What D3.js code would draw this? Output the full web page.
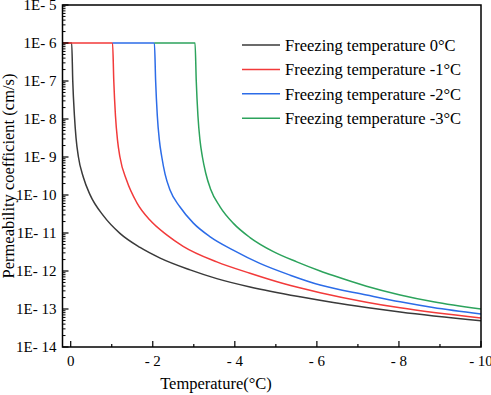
<!DOCTYPE html>
<html>
<head>
<meta charset="utf-8">
<script src="https://cdn.jsdelivr.net/npm/d3@7"></script>
<style>
  body { margin: 0; background: #fff; }
</style>
</head>
<body>
<script>
(()=>{
    const width = 491;
    const height = 395;
    const font = "'Liberation Serif', 'Times New Roman', Times, serif";

    const seriesNames = ["Freezing temperature 0°C", "Freezing temperature -1°C", "Freezing temperature -2°C", "Freezing temperature -3°C"];
    const seriesColors = ["#3a3a3a", "#f23a3a", "#2c6ce8", "#2ca35c"];

    // temperature (°C) and log10 of permeability
    const blackT = [0.2, -0.024, -0.05, -0.09, -0.13, -0.185, -0.31, -0.47, -0.8, -1.2, -1.69, -2.18, -2.91, -3.56, -4.37, -5.59, -6.4, -7.21, -8.03, -10];
    const blackK = [-6, -6, -7.0, -7.9, -8.5, -8.98, -9.54, -9.99, -10.55, -11.01, -11.38, -11.66, -11.97, -12.2, -12.42, -12.68, -12.83, -12.96, -13.08, -13.31];

    const redT = [0.2, -1.02, -1.05, -1.09, -1.14, -1.2, -1.365, -1.61, -1.93, -2.34, -2.74, -3.56, -4.37, -5.18, -6.08, -7.21, -8.03, -10];
    const redK = [-6, -6, -7.0, -7.9, -8.55, -9.0, -9.62, -10.2, -10.66, -11.05, -11.35, -11.76, -12.06, -12.33, -12.57, -12.82, -12.97, -13.24];

    const blueT = [-1.02, -2.04, -2.07, -2.11, -2.16, -2.22, -2.3, -2.42, -2.66, -2.99, -3.4, -3.96, -4.61, -5.35, -6.08, -7.21, -8.03, -8.83, -10];
    const blueK = [-6, -6, -7.0, -7.9, -8.55, -9.0, -9.45, -9.87, -10.31, -10.74, -11.1, -11.45, -11.8, -12.11, -12.37, -12.63, -12.81, -12.96, -13.13];

    const greenT = [-2.04, -3.03, -3.06, -3.1, -3.15, -3.21, -3.29, -3.41, -3.64, -3.96, -4.37, -4.94, -5.51, -6.08, -6.4, -7.21, -8.03, -8.84, -10];
    const greenK = [-6, -6, -7.0, -7.9, -8.55, -9.0, -9.42, -9.85, -10.31, -10.74, -11.12, -11.49, -11.76, -12.0, -12.12, -12.4, -12.63, -12.81, -13.0];

    const seriesT = [blackT, redT, blueT, greenT];
    const seriesK = [blackK, redK, blueK, greenK];

    const xTicks = [0, -2, -4, -6, -8, -10];
    const xMinor = [-1, -3, -5, -7, -9];
    const yExponents = [-5, -6, -7, -8, -9, -10, -11, -12, -13, -14];

    const margin = {left: 62.5, right: 10, top: 5, bottom: 48};

    const svg = d3.create("svg")
        .attr("width", width)
        .attr("height", height)
        .attr("viewBox", [0, 0, width, height])
        .attr("font-family", font);

    const x = d3.scaleLinear()
        .domain([0.2, -10])
        .range([margin.left, width - margin.right]);

    const y = d3.scaleLog()
        .domain([1e-14, 1e-5])
        .range([height - margin.bottom, margin.top]);

    const x0 = x.range()[0], x1 = x.range()[1];
    const y0 = y.range()[0], y1 = y.range()[1];

    svg.append("clipPath").attr("id", "plotclip")
        .append("rect")
        .attr("x", x0).attr("y", y1)
        .attr("width", x1 - x0).attr("height", y0 - y1);

    // curves
    const line = d3.line()
        .x(d => x(d[0]))
        .y(d => y(Math.pow(10, d[1])))
        .curve(d3.curveMonotoneX);

    for (let i = 0; i < seriesT.length; i++) {
        const pts = seriesT[i].map((t, j) => [t, seriesK[i][j]]);
        svg.append("path")
            .attr("clip-path", "url(#plotclip)")
            .attr("d", line(pts))
            .attr("fill", "none")
            .attr("stroke", seriesColors[i])
            .attr("stroke-width", 1.5);
    }

    // y ticks (log, inward)
    const yg = svg.append("g");
    for (let e = -14; e < -5; e++) {
        for (let m = 2; m <= 9; m++) {
            const yy = y(m * Math.pow(10, e));
            yg.append("line")
                .attr("x1", x0).attr("x2", x0 + 3)
                .attr("y1", yy).attr("y2", yy)
                .attr("stroke", "#000").attr("stroke-width", 1);
        }
    }
    yExponents.forEach(e => {
        const yy = y(Math.pow(10, e));
        yg.append("line")
            .attr("x1", x0).attr("x2", x0 + 6)
            .attr("y1", yy).attr("y2", yy)
            .attr("stroke", "#000").attr("stroke-width", 1.2);
        yg.append("text")
            .attr("x", x0 - 6)
            .attr("y", yy)
            .attr("dy", "0.35em")
            .attr("text-anchor", "end")
            .attr("font-family", font)
            .attr("font-size", "15px")
            .text("1E- " + (-e));
    });

    // x ticks (inward)
    const xg = svg.append("g");
    xMinor.forEach(t => {
        xg.append("line")
            .attr("x1", x(t)).attr("x2", x(t))
            .attr("y1", y0).attr("y2", y0 - 3)
            .attr("stroke", "#000").attr("stroke-width", 1.2);
    });
    xTicks.forEach(t => {
        xg.append("line")
            .attr("x1", x(t)).attr("x2", x(t))
            .attr("y1", y0).attr("y2", y0 - 6)
            .attr("stroke", "#000").attr("stroke-width", 1.2);
        xg.append("text")
            .attr("x", x(t))
            .attr("y", y0 + 19)
            .attr("text-anchor", "middle")
            .attr("font-family", font)
            .attr("font-size", "15px")
            .text(t === 0 ? "0" : "- " + (-t));
    });

    // frame
    svg.append("rect")
        .attr("x", x0).attr("y", y1)
        .attr("width", x1 - x0).attr("height", y0 - y1)
        .attr("fill", "none")
        .attr("stroke", "#000")
        .attr("stroke-width", 1.5);

    // axis titles
    svg.append("text")
        .attr("x", 216)
        .attr("y", 389)
        .attr("text-anchor", "middle")
        .attr("font-family", font)
        .attr("font-size", "16.5px")
        .text("Temperature(°C)");

    svg.append("text")
        .attr("transform", `translate(14,${(y0 + y1) / 2}) rotate(-90)`)
        .attr("text-anchor", "middle")
        .attr("font-family", font)
        .attr("font-size", "16.5px")
        .text("Permeability coefficient (cm/s)");

    // legend
    const lg = svg.append("g");
    seriesNames.forEach((name, i) => {
        const ly = 45 + i * 24.4;
        lg.append("line")
            .attr("x1", 242).attr("x2", 280)
            .attr("y1", ly).attr("y2", ly)
            .attr("stroke", seriesColors[i])
            .attr("stroke-width", 1.5);
        lg.append("text")
            .attr("x", 285)
            .attr("y", ly)
            .attr("dy", "0.35em")
            .attr("font-family", font)
            .attr("font-size", "16.5px")
            .text(name);
    });

    d3.select("body").append(() => svg.node());
})();
</script>
</body>
</html>
